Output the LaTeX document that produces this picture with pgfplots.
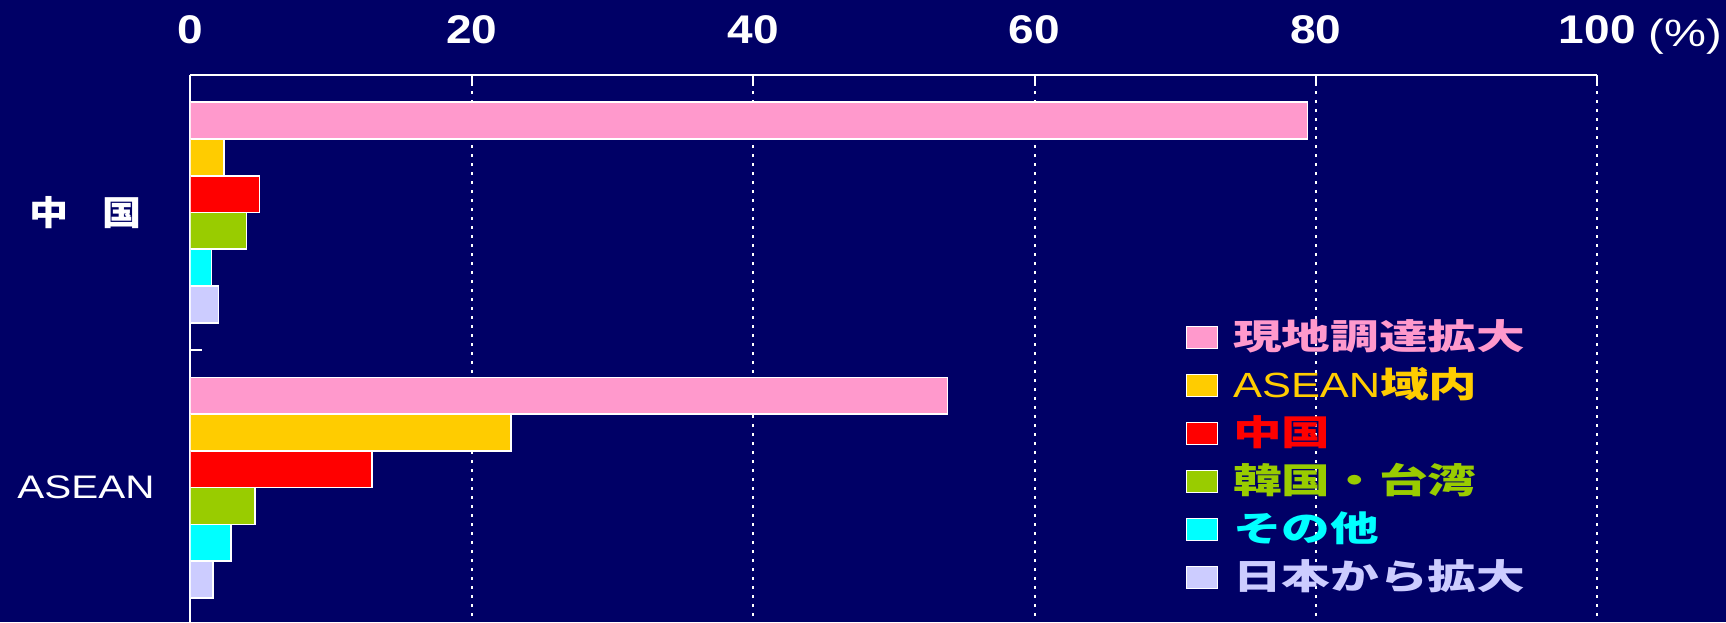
\documentclass[border=0pt]{standalone}
\usepackage{fontspec}
\usepackage{pgfplots}
\pgfplotsset{compat=1.18}
\setmainfont{Liberation Sans}
\newfontfamily\numfont[FakeStretch=1.15]{Liberation Sans}
\newfontfamily\latfont[FakeStretch=1.24]{Liberation Sans}
\newfontfamily\jpfont[FakeStretch=1.39]{Noto Sans CJK JP}
\newfontfamily\jpfontY[FakeStretch=1.15]{Noto Sans CJK JP}

\definecolor{bgnavy}{HTML}{000066}
\definecolor{cpink}{HTML}{FF99CC}
\definecolor{cyel}{HTML}{FFCC00}
\definecolor{cred}{HTML}{FF0000}
\definecolor{cgreen}{HTML}{99CC00}
\definecolor{ccyan}{HTML}{00FFFF}
\definecolor{clav}{HTML}{CCCCFF}

\newcommand{\legtext}[1]{\fontsize{17.5}{17.5}\selectfont\bfseries #1}

\begin{document}
\begin{tikzpicture}
% slide background
\fill[bgnavy] (-95.2pt,37.45pt) rectangle (767.8pt,-273.55pt);
\begin{axis}[
  at={(0,0)}, anchor=north west,
  scale only axis, width=703.45pt, height=275.15pt,
  xmin=0, xmax=100, ymin=-0.5, ymax=1.5,
  axis x line*=top, axis y line*=left,
  axis line style={white, line width=1pt, -},
  xtick={0,20,40,60,80,100},
  xticklabels={0,20,40,60,80,100},
  /pgf/number format/assume math mode=true,
  xticklabel style={font=\numfont\bfseries\fontsize{20}{20}\selectfont, text=white, inner sep=0pt, anchor=south},
  xticklabel shift=15.5pt,
  tick align=inside,
  major tick length=5.5pt,
  tick style={white, line width=1pt},
  xmajorgrids,
  major grid style={white, line width=1pt, dash pattern=on 1.5pt off 3pt},
  % separator tick between the two groups, pointing into the plot
  ytick={0.5}, yticklabels={},
  ytick style={xshift=6pt},
  % group names: China at 1 (top), ASEAN at 0 (bottom)
  extra y ticks={0,1},
  extra y tick labels={{\latfont\fontsize{16.3}{16.3}\selectfont ASEAN},{\jpfontY\bfseries\fontsize{17}{17}\selectfont 中\hspace{17pt}国}},
  extra y tick style={major tick length=0pt, yticklabel style={text=white, text width=104pt, align=center, inner sep=0pt, anchor=east}},
  xbar, bar width=18.38pt,
  legend cell align=left,
  legend image code/.code={\draw[#1, draw=white, line width=0.8pt] (0pt,-3.9pt) rectangle (15.5pt,7.1pt);},
  legend style={at={(axis cs:70.73,0.5965)}, anchor=north west, draw=none, fill=none,
    inner sep=0pt, outer sep=0pt, row sep=7.03pt, column sep=7.5pt,
    nodes={inner sep=0pt, text height=13pt, text depth=4pt}},
]
\addplot[bar shift=45.95pt, fill=cpink, draw=white, line width=0.8pt] coordinates {(79.4,1) (53.8,0)};
\addplot[bar shift=27.57pt, fill=cyel, draw=white, line width=0.8pt] coordinates {(2.4,1) (22.8,0)};
\addplot[bar shift=9.19pt, fill=cred, draw=white, line width=0.8pt] coordinates {(4.9,1) (12.9,0)};
\addplot[bar shift=-9.19pt, fill=cgreen, draw=white, line width=0.8pt] coordinates {(4.0,1) (4.6,0)};
\addplot[bar shift=-27.57pt, fill=ccyan, draw=white, line width=0.8pt] coordinates {(1.5,1) (2.9,0)};
\addplot[bar shift=-45.95pt, fill=clav, draw=white, line width=0.8pt] coordinates {(2.0,1) (1.6,0)};
\legend{
  \textcolor{cpink}{\jpfont\legtext{現地調達拡大}},
  \textcolor{cyel}{{\latfont\fontsize{17.5}{17.5}\selectfont ASEAN}\jpfont\legtext{域内}},
  \textcolor{cred}{\jpfont\legtext{中国}},
  \textcolor{cgreen}{\jpfont\legtext{韓国・台湾}},
  \textcolor{ccyan}{\jpfont\legtext{その他}},
  \textcolor{clav}{\jpfont\legtext{日本から拡大}}
}
\end{axis}
\node[text=white, font=\latfont\fontsize{19}{19}\selectfont] at (747.5pt,19pt) {(\%)};
\pgfresetboundingbox
\useasboundingbox (-95.2pt,37.45pt) rectangle (767.8pt,-273.55pt);
\end{tikzpicture}
\end{document}
